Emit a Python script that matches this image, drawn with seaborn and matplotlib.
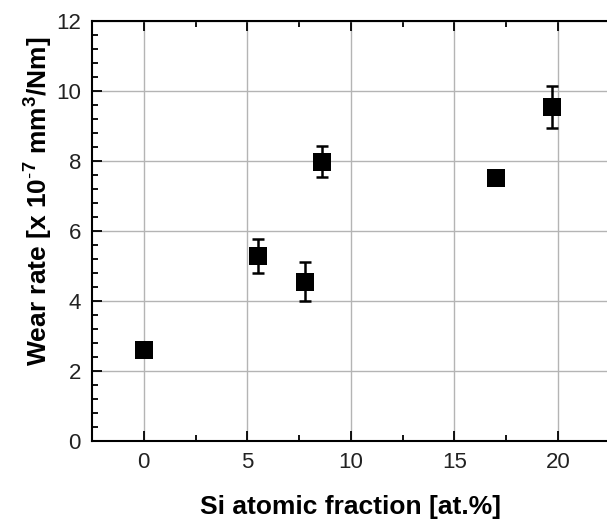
import seaborn as sns
import matplotlib.pyplot as plt
import pandas as pd
from matplotlib.ticker import MultipleLocator

# Data
si_fraction = [0.0, 5.5, 7.8, 8.6, 17.0, 19.7]
wear_rate = [2.61, 5.28, 4.55, 7.98, 7.52, 9.54]
wear_err = [0.10, 0.49, 0.55, 0.44, 0.12, 0.60]

df = pd.DataFrame({'si': si_fraction, 'wear': wear_rate, 'err': wear_err})

sns.set_style('ticks')
plt.rcParams['font.family'] = ['Liberation Sans', 'DejaVu Sans']
plt.rcParams['mathtext.fontset'] = 'custom'
plt.rcParams['mathtext.rm'] = 'Liberation Sans'
plt.rcParams['mathtext.bf'] = 'Liberation Sans:bold'

fig = plt.figure(figsize=(6.07, 5.28), dpi=100)
ax = fig.add_axes([0.1516, 0.1648, 0.853, 0.7955])

# Error bars first, then square markers on top
ax.errorbar(df['si'], df['wear'], yerr=df['err'], fmt='none',
            ecolor='black', elinewidth=1.8, capsize=4, capthick=1.8, zorder=3)
sns.scatterplot(data=df, x='si', y='wear', marker='s', s=150, color='black',
                edgecolor='black', linewidth=0, ax=ax, zorder=4)

ax.set_xlim(-2.5, 22.5)
ax.set_ylim(0, 12)
ax.xaxis.set_major_locator(MultipleLocator(5))
ax.xaxis.set_minor_locator(MultipleLocator(2.5))
ax.yaxis.set_major_locator(MultipleLocator(2))
ax.yaxis.set_minor_locator(MultipleLocator(0.4))

ax.grid(True, which='major', color='#b4b4b4', linewidth=1.0)
ax.set_axisbelow(True)

ax.tick_params(which='both', direction='in', top=True, right=False,
               colors='black', labelcolor='#222222', labelsize=16, width=1.3)
ax.tick_params(which='major', length=7, pad=8)
ax.tick_params(which='minor', length=4)
for side in ['left', 'bottom', 'top', 'right']:
    ax.spines[side].set_linewidth(1.5)
    ax.spines[side].set_color('black')

ax.set_xlabel('Si atomic fraction [at.%]', fontsize=19, fontweight='bold',
              color='black', labelpad=16)
ax.set_ylabel(r'Wear rate [x 10$^{\mathbf{\text{-}7}}$ mm$^{\mathbf{3}}$/Nm]',
              fontsize=19, fontweight='bold', color='black')
ax.yaxis.set_label_coords(-0.074, 0.57)

plt.savefig('out.png', dpi=100)
